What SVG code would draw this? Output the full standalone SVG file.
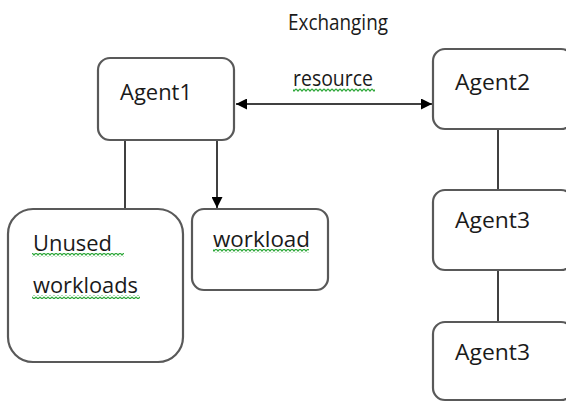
<svg xmlns="http://www.w3.org/2000/svg" width="566" height="403" viewBox="0 0 566 403">
<style>
.box{fill:#fff;stroke:#595959;stroke-width:2.2}
.ln{stroke:#000;stroke-width:1.5;fill:none}
.t{font-family:"Open Sans","Liberation Sans",sans-serif;font-size:21px;fill:#1a1a1a}
.wav{fill:url(#wavy)}
</style>
<defs>
<marker id="ah" viewBox="0 0 10 10" refX="10" refY="5" markerWidth="11" markerHeight="11" markerUnits="userSpaceOnUse" orient="auto-start-reverse">
<path d="M0,0 L10,5 L0,10 Z" fill="#000"/>
</marker>
<pattern id="wavy" x="0" y="0" width="4" height="4" patternUnits="userSpaceOnUse">
<path d="M0,0.8 L2,3 L4,0.8" fill="none" stroke="#2ea83a" stroke-width="1.2"/>
</pattern>
</defs>
<rect width="566" height="403" fill="#fff"/>
<g id="connectors">
<line class="ln" x1="236" y1="104" x2="432" y2="104" marker-start="url(#ah)" marker-end="url(#ah)"/>
<line class="ln" x1="217" y1="140" x2="217" y2="208" marker-end="url(#ah)"/>
<line class="ln" x1="125" y1="140" x2="125" y2="209"/>
<line class="ln" x1="498" y1="129" x2="498" y2="190"/>
<line class="ln" x1="498" y1="270" x2="498" y2="322"/>
</g>
<g id="label-exchanging">
<text class="t" x="288" y="30" textLength="100" lengthAdjust="spacingAndGlyphs">Exchanging</text>
<text class="t" x="293" y="86" textLength="80" lengthAdjust="spacingAndGlyphs">resource</text>
<rect class="wav" x="293" y="88" width="82" height="4"/>
</g>
<g id="agent1">
<rect class="box" x="98" y="58" width="136" height="82" rx="12"/>
<text class="t" x="120" y="100" textLength="72" lengthAdjust="spacingAndGlyphs">Agent1</text>
</g>
<g id="agent2">
<rect class="box" x="433" y="49" width="140" height="80" rx="12"/>
<text class="t" x="455" y="90" textLength="75" lengthAdjust="spacingAndGlyphs">Agent2</text>
</g>
<g id="agent3a">
<rect class="box" x="433" y="190" width="140" height="80" rx="12"/>
<text class="t" x="455" y="228" textLength="75" lengthAdjust="spacingAndGlyphs">Agent3</text>
</g>
<g id="agent3b">
<rect class="box" x="433" y="322" width="140" height="78" rx="12"/>
<text class="t" x="455" y="360" textLength="75" lengthAdjust="spacingAndGlyphs">Agent3</text>
</g>
<g id="unused">
<rect class="box" x="8" y="209" width="175" height="153" rx="25"/>
<text class="t" x="33" y="251" textLength="79" lengthAdjust="spacingAndGlyphs">Unused</text>
<rect class="wav" x="32" y="253" width="92" height="4"/>
<text class="t" x="33" y="293" textLength="105" lengthAdjust="spacingAndGlyphs">workloads</text>
<rect class="wav" x="32" y="295" width="108" height="4"/>
</g>
<g id="workload">
<rect class="box" x="192" y="209" width="136" height="81" rx="12"/>
<text class="t" x="213" y="247" textLength="97" lengthAdjust="spacingAndGlyphs">workload</text>
<rect class="wav" x="213" y="249" width="96" height="4"/>
</g>
</svg>
